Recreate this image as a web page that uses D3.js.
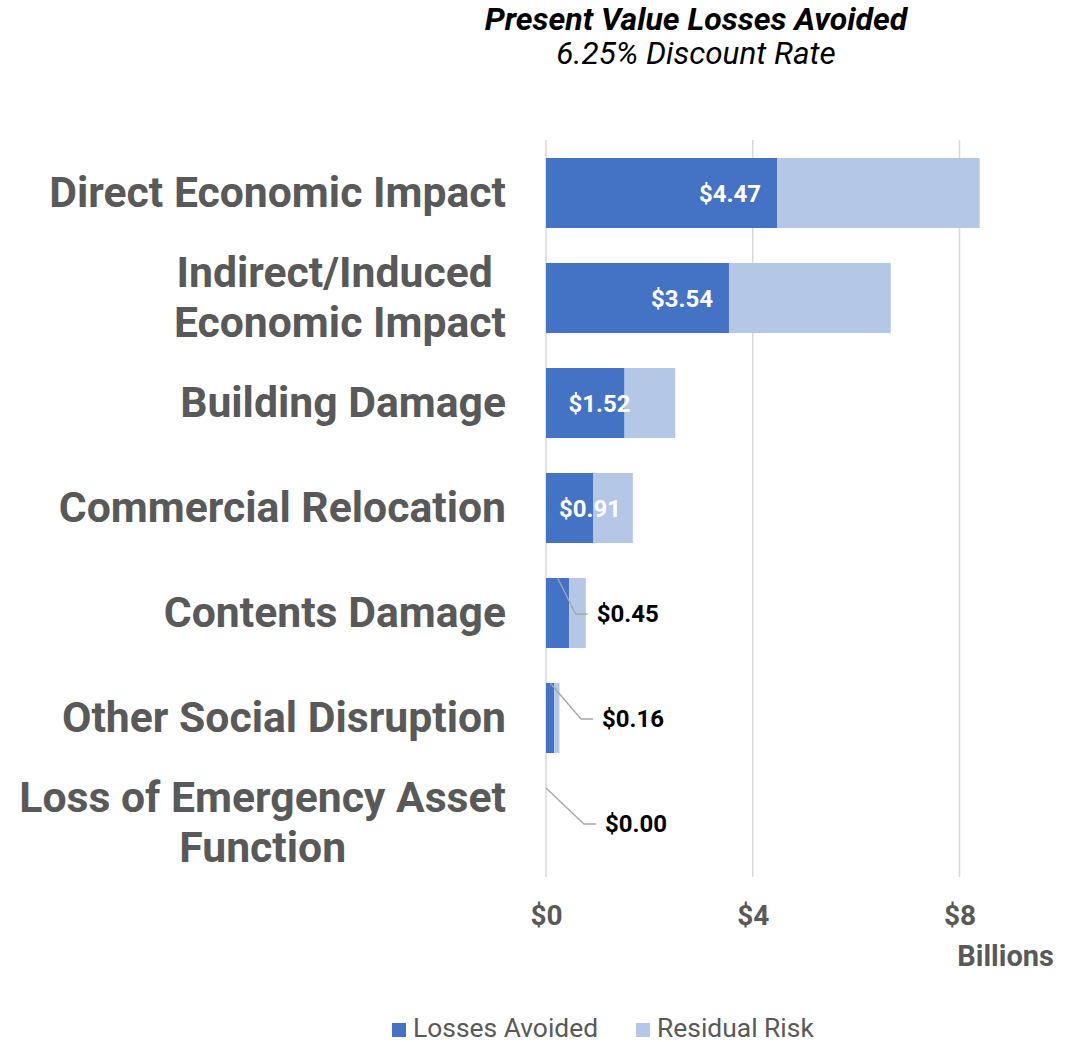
<!DOCTYPE html>
<html>
<head>
<meta charset="utf-8">
<script src="https://cdn.jsdelivr.net/npm/d3@7"></script>
<style>
  html, body { margin: 0; padding: 0; background: #fff; }
  svg { display: block; font-family: Roboto, "Noto Sans", sans-serif; }
</style>
</head>
<body>
<svg id="chart" width="1076" height="1042"></svg>
<script>
// Present value losses avoided vs. residual risk, in billions of dollars
const categories = [
  ["Direct Economic Impact"],
  ["Indirect/Induced ", "Economic Impact"],
  ["Building Damage"],
  ["Commercial Relocation"],
  ["Contents Damage"],
  ["Other Social Disruption"],
  ["Loss of Emergency Asset", "Function"]
];
const lossesAvoided = [4.47, 3.54, 1.52, 0.91, 0.45, 0.16, 0.00];
const residualRisk  = [3.92, 3.13, 0.98, 0.77, 0.32, 0.10, 0.00];
const xTicks = [0, 4, 8];
const seriesNames = ["Losses Avoided", "Residual Risk"];
const seriesColors = ["#4472C4", "#B4C7E7"];

const rows = categories.map((lines, i) => ({
  key: lines.join(" "),
  lines,
  losses: lossesAvoided[i],
  residual: residualRisk[i]
}));

const svg = d3.select("#chart");
const textGray = "#595959";

const x = d3.scaleLinear().domain([0, 8]).range([546, 959.5]);
const y = d3.scaleBand()
  .domain(rows.map(d => d.key))
  .range([140.5, 875.5])
  .paddingInner(1 / 3)
  .paddingOuter(1 / 6);

// Title
svg.append("text")
  .attr("x", 696).attr("y", 30)
  .attr("text-anchor", "middle")
  .attr("font-size", 32).attr("font-weight", 700).attr("font-style", "italic")
  .attr("fill", "#000")
  .text("Present Value Losses Avoided");
svg.append("text")
  .attr("x", 696).attr("y", 64)
  .attr("text-anchor", "middle")
  .attr("font-size", 31.5).attr("font-style", "italic")
  .attr("fill", "#000")
  .text("6.25% Discount Rate");

// Vertical gridlines
svg.append("g")
  .selectAll("line")
  .data(xTicks)
  .join("line")
  .attr("x1", d => x(d)).attr("x2", d => x(d))
  .attr("y1", 140).attr("y2", 877)
  .attr("stroke", "#D9D9D9").attr("stroke-width", 1.5);

// X axis tick labels
const xAxis = d3.axisBottom(x)
  .tickValues(xTicks)
  .tickFormat(d => "$" + d)
  .tickSize(0)
  .tickPadding(0);
const gx = svg.append("g").attr("transform", "translate(0,905)").call(xAxis);
gx.select(".domain").remove();
gx.selectAll("text")
  .attr("dy", "0.71em")
  .attr("font-family", "Roboto")
  .attr("font-size", 28).attr("font-weight", 700)
  .attr("fill", textGray);

svg.append("text")
  .attr("x", 1054).attr("y", 966)
  .attr("text-anchor", "end")
  .attr("font-size", 29).attr("font-weight", 700)
  .attr("fill", textGray)
  .text("Billions");

// Stacked bars
const stack = d3.stack().keys(["losses", "residual"]);
const stacked = stack(rows);

svg.append("g")
  .selectAll("g")
  .data(stacked)
  .join("g")
  .attr("fill", (d, i) => seriesColors[i])
  .selectAll("rect")
  .data(d => d)
  .join("rect")
  .attr("x", d => x(d[0]))
  .attr("y", d => y(d.data.key))
  .attr("width", d => Math.max(0, x(d[1]) - x(d[0])))
  .attr("height", y.bandwidth());

// Category labels (right-aligned block, lines centred within block)
const catG = svg.append("g");
rows.forEach(r => {
  const cy = y(r.key) + y.bandwidth() / 2;
  const lh = 50;
  const n = r.lines.length;
  const t = catG.append("text")
    .attr("font-size", 42.7).attr("font-weight", 700)
    .attr("fill", textGray)
    .attr("text-anchor", "middle")
    .style("white-space", "pre");
  r.lines.forEach((line, j) => {
    t.append("tspan")
      .attr("y", cy + 13.5 + (j - (n - 1) / 2) * lh)
      .text(line);
  });
  // measure widest line, then centre the block so its right edge sits at 506
  const widths = t.selectAll("tspan").nodes().map(n => n.getComputedTextLength());
  const w = d3.max(widths);
  t.selectAll("tspan").attr("x", 506 - w / 2);
});

// Value labels for losses avoided
const labelG = svg.append("g");
rows.forEach(r => {
  const cy = y(r.key) + y.bandwidth() / 2;
  const x0 = x(0);
  const xe = x(r.losses);
  const label = "$" + r.losses.toFixed(2);
  if (r.losses >= 0.5) {
    const w = xe - x0;
    const cx = Math.max(xe - 47, x0 + 30 + 0.3 * w);
    labelG.append("text")
      .attr("x", cx).attr("y", cy + 9)
      .attr("text-anchor", "middle")
      .attr("font-size", 24).attr("font-weight", 700)
      .attr("fill", "#fff")
      .text(label);
  } else {
    const top = y(r.key);
    const mid = (x0 + xe) / 2;
    const elbowX = mid + 18 + 20 * (1 - r.losses / 0.45);
    const elbowY = cy + 1;
    labelG.append("polyline")
      .attr("points", [[mid, top], [elbowX, elbowY], [elbowX + 12, elbowY]].map(p => p.join(",")).join(" "))
      .attr("fill", "none")
      .attr("stroke", "#A6A6A6").attr("stroke-width", 1.3);
    labelG.append("text")
      .attr("x", elbowX + 21).attr("y", cy + 9)
      .attr("font-size", 24).attr("font-weight", 700)
      .attr("fill", "#000")
      .text(label);
  }
});

// Legend
const legend = svg.append("g").attr("transform", "translate(0,1037)");
const legendItems = legend.selectAll("g")
  .data(seriesNames)
  .join("g");
legendItems.append("rect")
  .attr("y", -14).attr("width", 14).attr("height", 14)
  .attr("fill", (d, i) => seriesColors[i]);
legendItems.append("text")
  .attr("x", 21)
  .attr("font-size", 26.4)
  .attr("fill", textGray)
  .text(d => d);
let lx = 392;
legendItems.each(function () {
  d3.select(this).attr("transform", `translate(${lx},0)`);
  lx += this.getBBox().width + 38;
});
</script>
</body>
</html>
